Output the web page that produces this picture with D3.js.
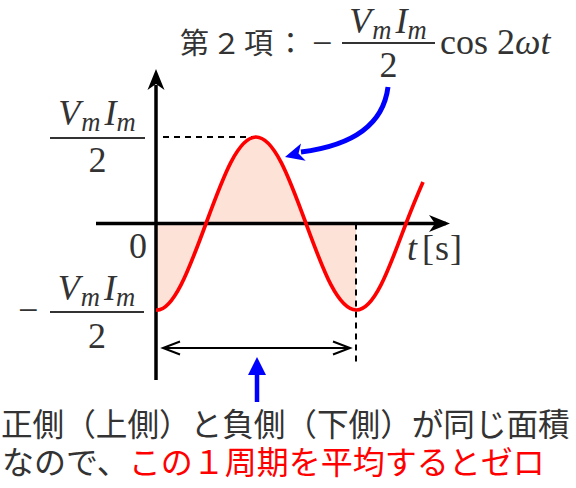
<!DOCTYPE html>
<html><head><meta charset="utf-8">
<script src="https://cdn.jsdelivr.net/npm/d3@7"></script>
<style>body{margin:0;background:#fff}</style></head>
<body><svg id="c" width="576" height="488"></svg>
<script>
// ---- data ----
const phase = [-0.125, 0, 0.125, 0.25, 0.375, 0.5, 0.625, 0.75, 0.875, 1, 1.125, 1.25, 1.335];
const power = [-0.71, -1, -0.71, 0, 0.71, 1, 0.71, 0, -0.71, -1, -0.71, 0, 0.48];
const yTickValues = [1, 0, -1];
const zeroLabel = "0";
const xAxisVar = "t";
const xAxisUnit = "[s]";
const titleCJK = "第２項：";
const note1 = "正側（上側）と負側（下側）が同じ面積";
const note2a = "なので、";
const note2b = "この１周期を平均するとゼロ";

const svg = d3.select("#c");
const x = d3.scaleLinear().domain([0, 1]).range([156, 356]);
const y = d3.scaleLinear().domain([-1, 1]).range([310, 137]);
const data = phase.map((p, i) => ({p, v: power[i]}));

const INK = "#333";
const serif = "'Liberation Serif', 'DejaVu Serif', serif";
const cjk = "'Noto Sans CJK JP', 'Noto Sans', sans-serif";

const defs = svg.append("defs");
defs.append("clipPath").attr("id", "clipFill").append("rect")
  .attr("x", x(0)).attr("y", 0).attr("width", x(1) - x(0)).attr("height", 488);
defs.append("clipPath").attr("id", "clipLine").append("rect")
  .attr("x", x(0)).attr("y", 0).attr("width", 400).attr("height", 488);

// shaded area
const area = d3.area().x(d => x(d.p)).y0(y(0)).y1(d => y(d.v)).curve(d3.curveNatural);
svg.append("path").datum(data).attr("d", area)
  .attr("fill", "#fde2d8").attr("clip-path", "url(#clipFill)");

// dashed guides
svg.append("line").attr("x1", x(0) + 7).attr("x2", x(0.5)).attr("y1", y(1)).attr("y2", y(1))
  .attr("stroke", "#000").attr("stroke-width", 2).attr("stroke-dasharray", "6,5");
svg.append("line").attr("x1", x(1)).attr("x2", x(1)).attr("y1", y(0)).attr("y2", 364)
  .attr("stroke", "#000").attr("stroke-width", 2).attr("stroke-dasharray", "6,5");

// axes
const head = (tx, ty, ang, col) => {
  svg.append("path").attr("d", "M0,0 L-21,-8.5 L-15,0 L-21,8.5 Z")
    .attr("transform", `translate(${tx},${ty}) rotate(${ang})`).attr("fill", col);
};
svg.append("line").attr("x1", x(-0.3)).attr("x2", x(1.45)).attr("y1", y(0)).attr("y2", y(0))
  .attr("stroke", "#000").attr("stroke-width", 3.5);
head(x(1.47), y(0), 0, "#000");
svg.append("line").attr("x1", x(0)).attr("x2", x(0)).attr("y1", 380).attr("y2", 85)
  .attr("stroke", "#000").attr("stroke-width", 3.5);
head(x(0), 69, -90, "#000");

// curve
const line = d3.line().x(d => x(d.p)).y(d => y(d.v)).curve(d3.curveNatural);
svg.append("path").datum(data).attr("d", line).attr("fill", "none")
  .attr("stroke", "#ff0000").attr("stroke-width", 3.7).attr("clip-path", "url(#clipLine)");

// double arrow (one period)
const ay = 348;
svg.append("line").attr("x1", x(0) + 7).attr("x2", x(1) - 6).attr("y1", ay).attr("y2", ay)
  .attr("stroke", "#000").attr("stroke-width", 2);
[[x(0) + 7, 1], [x(1) - 6, -1]].forEach(([px, s]) => {
  svg.append("path").attr("d", `M${px + s * 17},${ay - 6.5} L${px},${ay} L${px + s * 17},${ay + 6.5}`)
    .attr("fill", "none").attr("stroke", "#000").attr("stroke-width", 2);
});

// blue curved arrow
svg.append("path").attr("d", "M388,87 Q381,142 301,152")
  .attr("fill", "none").attr("stroke", "#0000ff").attr("stroke-width", 5);
svg.append("path").attr("d", "M0,0 L-19,-9 L-14,0 L-19,9 Z")
  .attr("transform", "translate(285,157) rotate(165)").attr("fill", "#0000ff");

// blue up arrow
svg.append("line").attr("x1", 257).attr("x2", 257).attr("y1", 402).attr("y2", 370)
  .attr("stroke", "#0000ff").attr("stroke-width", 4.5);
svg.append("path").attr("d", "M257,357 L248,375 L266,375 Z").attr("fill", "#0000ff");

// ---- math labels ----
const FS = 36;
function vmim(cx, base, fs) {
  const t = svg.append("text").attr("x", cx).attr("y", base).attr("text-anchor", "middle")
    .attr("font-family", serif).attr("font-size", fs).attr("fill", INK)
    .attr("letter-spacing", 1);
  t.append("tspan").attr("font-style", "italic").text("V");
  t.append("tspan").attr("font-style", "italic").attr("font-size", fs * 0.74).attr("dy", fs * 0.16).text("m");
  t.append("tspan").attr("font-style", "italic").attr("dx", 3).attr("dy", -fs * 0.16).text("I");
  t.append("tspan").attr("font-style", "italic").attr("font-size", fs * 0.74).attr("dx", -1).attr("dy", fs * 0.16).text("m");
}
function frac(x1, x2, barY, numBase, denBase, fs) {
  const cx = (x1 + x2) / 2;
  vmim(cx, numBase, fs);
  svg.append("line").attr("x1", x1).attr("x2", x2).attr("y1", barY).attr("y2", barY)
    .attr("stroke", INK).attr("stroke-width", 2);
  svg.append("text").attr("x", cx).attr("y", denBase).attr("text-anchor", "middle")
    .attr("font-family", serif).attr("font-size", fs).attr("fill", INK).text("2");
}
// y tick labels
yTickValues.forEach(v => {
  if (v === 1) frac(50, 145, y(v) + 1, y(v) - 12, y(v) + 35, FS);
  if (v === 0) svg.append("text").attr("x", 147).attr("y", y(v) + 34).attr("text-anchor", "end")
    .attr("font-family", serif).attr("font-size", FS).attr("fill", INK).text(zeroLabel);
  if (v === -1) {
    svg.append("text").attr("x", 18).attr("y", y(v) + 12).attr("font-family", serif)
      .attr("font-size", FS).attr("fill", INK).text("−");
    frac(50, 144, y(v) + 2, y(v) - 10, y(v) + 38, FS);
  }
});

// x axis label
const tl = svg.append("text").attr("x", 407).attr("y", 260).attr("font-family", serif)
  .attr("font-size", FS).attr("fill", INK);
tl.append("tspan").attr("font-style", "italic").text(xAxisVar);
tl.append("tspan").attr("dx", 5).attr("letter-spacing", 1).text(xAxisUnit);

// title
svg.append("text").attr("x", 180).attr("y", 54).attr("font-family", cjk)
  .attr("font-size", 29).attr("letter-spacing", 3).attr("fill", INK).text(titleCJK);
svg.append("text").attr("x", 312).attr("y", 55).attr("font-family", serif)
  .attr("font-size", FS).attr("fill", INK).text("−");
frac(342, 435, 43, 33, 77, FS);
const cs = svg.append("text").attr("x", 440).attr("y", 54).attr("font-family", serif)
  .attr("font-size", FS).attr("fill", INK);
cs.append("tspan").text("cos 2");
cs.append("tspan").attr("font-style", "italic").text("ωt");

// notes
svg.append("text").attr("x", 1).attr("y", 436).attr("font-family", cjk)
  .attr("font-size", 31.6).attr("fill", INK).text(note1);
const n2 = svg.append("text").attr("x", 2).attr("y", 474).attr("font-family", cjk)
  .attr("font-size", 32).attr("fill", INK);
n2.append("tspan").text(note2a);
n2.append("tspan").attr("fill", "#ff0000").text(note2b);
</script>
</body></html>
